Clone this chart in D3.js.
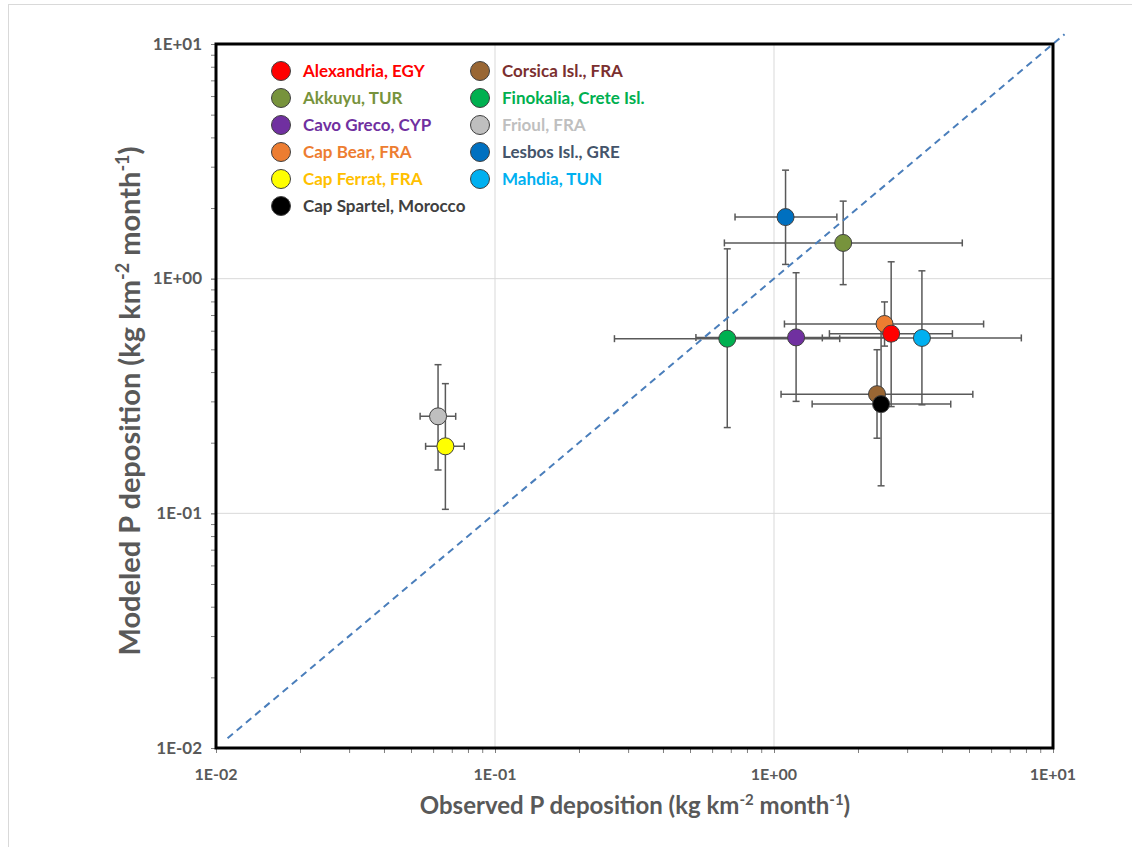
<!DOCTYPE html>
<html>
<head>
<meta charset="utf-8">
<script src="https://cdn.jsdelivr.net/npm/d3@7"></script>
<style>
  html, body { margin: 0; padding: 0; background: #ffffff; }
  svg { display: block; }
  text { font-family: Lato, "Open Sans", "DejaVu Sans", sans-serif; }
</style>
</head>
<body>
<svg id="chart" width="1132" height="847"></svg>
<script>
// ---------- DATA ----------
const sites = ["Alexandria, EGY", "Akkuyu, TUR", "Cavo Greco, CYP", "Cap Bear, FRA", "Cap Ferrat, FRA",
               "Cap Spartel, Morocco", "Corsica Isl., FRA", "Finokalia, Crete Isl.", "Frioul, FRA",
               "Lesbos Isl., GRE", "Mahdia, TUN"];
// observed (x) with error range
const observed   = [2.63, 1.77, 1.20, 2.49, 0.0664, 2.42, 2.34, 0.680, 0.0625, 1.10, 3.39];
const observedLo = [1.58, 0.664, 0.525, 1.09, 0.0564, 1.37, 1.06, 0.268, 0.0539, 0.725, 1.49];
const observedHi = [4.36, 4.73, 2.74, 5.64, 0.0776, 4.30, 5.16, 1.72, 0.0723, 1.68, 7.70];
// modeled (y) with error range
const modeled    = [0.583, 1.42, 0.562, 0.641, 0.193, 0.292, 0.322, 0.555, 0.259, 1.83, 0.559];
const modeledLo  = [0.285, 0.943, 0.300, 0.516, 0.104, 0.131, 0.209, 0.232, 0.153, 1.15, 0.290];
const modeledHi  = [1.18, 2.14, 1.06, 0.796, 0.357, 0.650, 0.498, 1.34, 0.430, 2.90, 1.08];

const markerColors = ["#FF0000", "#77933C", "#7030A0", "#ED7D31", "#FFFF00", "#000000",
                      "#996633", "#00B050", "#BFBFBF", "#0070C0", "#00B0F0"];
const labelColors  = ["#FF0000", "#77933C", "#7030A0", "#ED7D31", "#FFC000", "#404040",
                      "#7B2F2F", "#00B050", "#BFBFBF", "#44546A", "#00B0F0"];

const axisTicks = [0.01, 0.1, 1, 10];
const axisTickLabels = ["1E-02", "1E-01", "1E+00", "1E+01"];
const oneToOne = [0.011, 11];

// legend layout: column A then column B
const legendColA = [0, 1, 2, 3, 4, 5];
const legendColB = [6, 7, 8, 9, 10];
// marker drawing order (later on top)
const drawOrder = [1, 2, 4, 7, 8, 9, 10, 3, 0, 6, 5];

// ---------- CHART ----------
const svg = d3.select("#chart");
const L = 216, R = 1053, T = 44, B = 748;
const x = d3.scaleLog().domain([0.01, 10]).range([L, R]);
const y = d3.scaleLog().domain([0.01, 10]).range([B, T]);
const grey = "#595959";

// outer chart border
svg.append("rect").attr("x", 8.5).attr("y", 4.5).attr("width", 1140).attr("height", 860)
  .attr("fill", "none").attr("stroke", "#D9D9D9").attr("stroke-width", 1);

// gridlines
const gridVals = [0.1, 1];
svg.append("g").selectAll("line.gx").data(gridVals).join("line")
  .attr("x1", d => x(d)).attr("x2", d => x(d)).attr("y1", T).attr("y2", B)
  .attr("stroke", "#D9D9D9").attr("stroke-width", 1);
svg.append("g").selectAll("line.gy").data(gridVals).join("line")
  .attr("y1", d => y(d)).attr("y2", d => y(d)).attr("x1", L).attr("x2", R)
  .attr("stroke", "#D9D9D9").attr("stroke-width", 1);

// axes (ticks incl. minor)
const minorVals = [];
[0.01, 0.1, 1].forEach(dec => { for (let k = 1; k <= 10; k++) minorVals.push(dec * k); });
const xAxis = d3.axisBottom(x).tickValues(minorVals).tickSize(5).tickFormat("");
const yAxis = d3.axisLeft(y).tickValues(minorVals).tickSize(5).tickFormat("");
const gx = svg.append("g").attr("transform", `translate(0,${B})`).call(xAxis);
const gy = svg.append("g").attr("transform", `translate(${L},0)`).call(yAxis);
[gx, gy].forEach(g => {
  g.select(".domain").remove();
  g.selectAll(".tick line").attr("stroke", "#7F7F7F").attr("stroke-width", 1);
});

// tick labels
svg.append("g").selectAll("text").data(axisTicks).join("text")
  .attr("x", d => x(d)).attr("y", 780)
  .attr("text-anchor", "middle").attr("font-size", 16).attr("font-weight", "bold")
  .attr("fill", grey).text((d, i) => axisTickLabels[i]);
svg.append("g").selectAll("text").data(axisTicks).join("text")
  .attr("x", 202).attr("y", d => y(d) + 5.5)
  .attr("text-anchor", "end").attr("font-size", 17).attr("font-weight", "bold")
  .attr("fill", grey).text((d, i) => axisTickLabels[i]);

// error bars
const eb = svg.append("g").attr("stroke", grey).attr("stroke-width", 1.5);
const cap = 3.5;
sites.forEach((s, i) => {
  const cx = x(observed[i]), cy = y(modeled[i]);
  // horizontal
  eb.append("line").attr("x1", x(observedLo[i])).attr("x2", x(observedHi[i])).attr("y1", cy).attr("y2", cy);
  eb.append("line").attr("x1", x(observedLo[i])).attr("x2", x(observedLo[i])).attr("y1", cy - cap).attr("y2", cy + cap);
  eb.append("line").attr("x1", x(observedHi[i])).attr("x2", x(observedHi[i])).attr("y1", cy - cap).attr("y2", cy + cap);
  // vertical
  eb.append("line").attr("x1", cx).attr("x2", cx).attr("y1", y(modeledLo[i])).attr("y2", y(modeledHi[i]));
  eb.append("line").attr("x1", cx - cap).attr("x2", cx + cap).attr("y1", y(modeledLo[i])).attr("y2", y(modeledLo[i]));
  eb.append("line").attr("x1", cx - cap).attr("x2", cx + cap).attr("y1", y(modeledHi[i])).attr("y2", y(modeledHi[i]));
});

// 1:1 line
svg.append("line")
  .attr("x1", x(oneToOne[0])).attr("y1", y(oneToOne[0]))
  .attr("x2", x(oneToOne[1])).attr("y2", y(oneToOne[1]))
  .attr("stroke", "#4A7EBB").attr("stroke-width", 2).attr("stroke-dasharray", "7,5");

// markers
svg.append("g").selectAll("circle").data(drawOrder).join("circle")
  .attr("cx", i => x(observed[i])).attr("cy", i => y(modeled[i])).attr("r", 8.5)
  .attr("fill", i => markerColors[i]).attr("stroke", "#404040").attr("stroke-width", 1);

// frame
svg.append("rect").attr("x", L).attr("y", T).attr("width", R - L).attr("height", B - T)
  .attr("fill", "none").attr("stroke", "#000").attr("stroke-width", 3);

// legend
const rowY = d3.scaleLinear().domain([0, 1]).range([71, 98]);
function legendCol(idx, mx) {
  const g = svg.append("g");
  idx.forEach((si, r) => {
    g.append("circle").attr("cx", mx).attr("cy", rowY(r)).attr("r", 9.5)
      .attr("fill", markerColors[si]).attr("stroke", "#404040").attr("stroke-width", 1);
    g.append("text").attr("x", mx + 22).attr("y", rowY(r) + 6)
      .attr("font-size", 17).attr("font-weight", "bold").attr("fill", labelColors[si]).text(sites[si]);
  });
}
legendCol(legendColA, 281);
legendCol(legendColB, 480);

// axis titles
const xt = svg.append("text").attr("x", 635).attr("y", 814).attr("text-anchor", "middle")
  .attr("font-size", 24).attr("font-weight", "bold").attr("fill", grey);
xt.append("tspan").text("Observed P deposition (kg km");
xt.append("tspan").attr("font-size", 15).attr("dy", -9).text("-2");
xt.append("tspan").attr("dy", 9).text(" month");
xt.append("tspan").attr("font-size", 15).attr("dy", -9).text("-1");
xt.append("tspan").attr("dy", 9).text(")");

const yt = svg.append("text").attr("transform", "translate(140,401) rotate(-90)").attr("text-anchor", "middle")
  .attr("font-size", 29).attr("font-weight", "bold").attr("fill", grey);
yt.append("tspan").text("Modeled P deposition (kg km");
yt.append("tspan").attr("font-size", 18).attr("dy", -11).text("-2");
yt.append("tspan").attr("dy", 11).text(" month");
yt.append("tspan").attr("font-size", 18).attr("dy", -11).text("-1");
yt.append("tspan").attr("dy", 11).text(")");
</script>
</body>
</html>
